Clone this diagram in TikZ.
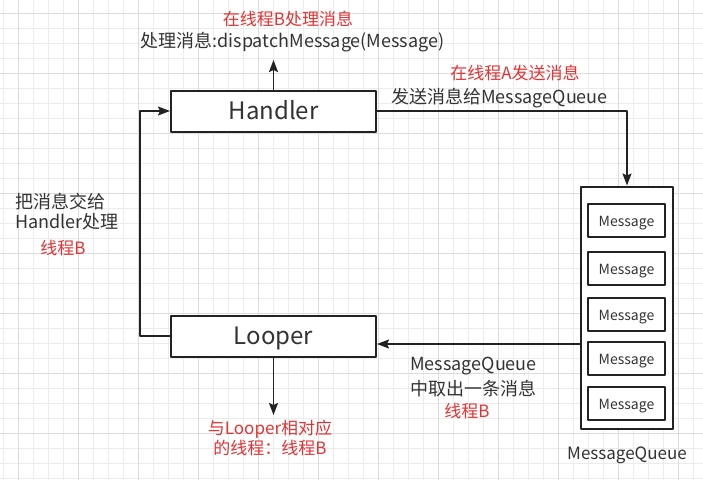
\documentclass[tikz,border=0pt]{standalone}
\usepackage{fontspec}
\setmainfont{Noto Sans CJK SC}
\usetikzlibrary{arrows.meta}
\definecolor{txtgray}{RGB}{51,51,51}
\definecolor{txtred}{RGB}{229,51,51}
\definecolor{gridlt}{RGB}{236,236,236}
\definecolor{griddk}{RGB}{220,220,220}
\definecolor{linedk}{RGB}{34,34,34}

\begin{document}
\begin{tikzpicture}[x=1pt, y=-1pt, line join=round,
    mainbox/.style={draw=linedk, line width=2pt, fill=white, minimum width=205pt, minimum height=41pt, inner sep=0pt, text height=17.6pt, text depth=0pt, text=txtgray, font=\fontsize{24}{28}\selectfont},
    queuebox/.style={draw=linedk, line width=2pt, fill=white, minimum width=92pt, minimum height=242pt, inner sep=0pt},
    msgbox/.style={draw=linedk, line width=2pt, fill=white, minimum width=77pt, minimum height=33pt, inner sep=0pt, text height=12.2pt, text depth=0pt, text=txtgray, font=\fontsize{14}{16}\selectfont},
    arr/.style={draw=linedk, line width=1.6pt, -{Stealth[length=12pt, width=9pt, inset=2pt]}},
    lbl/.style={text=txtgray, inner sep=0pt, font=\fontsize{18}{20}\selectfont},
    redlbl/.style={text=txtred, inner sep=0pt, font=\fontsize{17}{20}\selectfont}]
    \useasboundingbox (0,0) rectangle (703,480);
    % 背景网格
    \fill[white] (0,0) rectangle (703,480);
    \foreach \x in {3,18,...,703} \draw[gridlt, line width=0.8pt] (\x,0) -- (\x,480);
    \foreach \y in {13,28,...,480} \draw[gridlt, line width=0.8pt] (0,\y) -- (703,\y);
    \foreach \x in {18,78,...,703} \draw[griddk, line width=0.8pt] (\x,0) -- (\x,480);
    \foreach \y in {13,73,...,480} \draw[griddk, line width=0.8pt] (0,\y) -- (703,\y);

    % 方框
    \node[mainbox] (handler) at (273.5,111) {Handler};
    \node[mainbox] (looper) at (273.5,336) {Looper};
    \node[queuebox] (queue) at (627,307.5) {};
    \foreach \i/\y in {1/220.5, 2/268, 3/314, 4/358, 5/403}
        \node[msgbox] (msg\i) at (626.5,\y) {Message};

    % 箭头的自由端
    \coordinate (handlerOut) at (273.5,60);
    \coordinate (looperOut) at (273.5,415);
    \coordinate (queueOut) at (581,344);

    % 连线
    \draw[arr] (handler.north) -- (handlerOut);
    \draw[arr] (handler.east) -| (queue.north);
    \draw[arr] (queue.west |- queueOut) -- (looper.east |- queueOut);
    \draw[arr] (looper.south) -- (looperOut);
    \draw[arr] (looper.west) -- ++(-30,0) |- (handler.west);

    % 文字
    \node[redlbl] (threadB1) at (288,19) {在线程B处理消息};
    \node[lbl] (dispatch) at (292.5,42.5) {处理消息:dispatchMessage(Message)};
    \node[redlbl] (threadA) at (515,73) {在线程A发送消息};
    \node[lbl, anchor=west] (send) at (391,98.5) {发送消息给MessageQueue};
    \node[lbl, anchor=west, align=left] (handover) at (15,212) {把消息交给\\Handler处理};
    \node[redlbl] (threadB2) at (63,248) {线程B};
    \node[lbl, anchor=west, align=left, font=\fontsize{18}{25}\selectfont] (takeout) at (410,377) {MessageQueue\\中取出一条消息};
    \node[redlbl] (threadB3) at (467,411) {线程B};
    \node[redlbl, align=center] (looperThread) at (270,437.5) {与Looper相对应\\的线程：线程B};
    \node[lbl, font=\fontsize{17}{20}\selectfont] (queueName) at (627,455) {MessageQueue};
\end{tikzpicture}
\end{document}
